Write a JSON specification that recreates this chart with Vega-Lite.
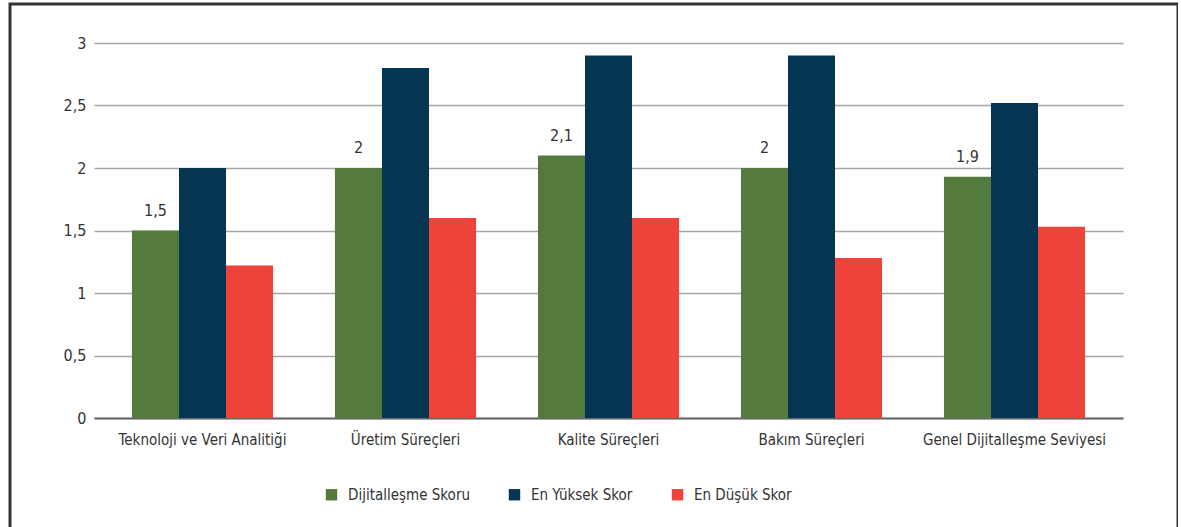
{
  "$schema": "https://vega.github.io/schema/vega-lite/v6.json",
  "autosize": {"type": "none"},
  "padding": {"left": 10, "top": 4, "right": 0, "bottom": 0},
  "width": 1168,
  "height": 530,
  "background": "#ffffff",
  "config": {
    "view": {"stroke": "#333333", "strokeWidth": 3},
    "font": "Liberation Sans Narrow, DejaVu Sans Condensed, sans-serif",
    "text": {"font": "Liberation Sans Narrow, DejaVu Sans Condensed, sans-serif"}
  },
  "data": {
    "values": [
      {"category": "Teknoloji ve Veri Analitiği", "series": "Dijitalleşme Skoru", "value": 1.5},
      {"category": "Teknoloji ve Veri Analitiği", "series": "En Yüksek Skor", "value": 2.0},
      {"category": "Teknoloji ve Veri Analitiği", "series": "En Düşük Skor", "value": 1.22},
      {"category": "Üretim Süreçleri", "series": "Dijitalleşme Skoru", "value": 2.0},
      {"category": "Üretim Süreçleri", "series": "En Yüksek Skor", "value": 2.8},
      {"category": "Üretim Süreçleri", "series": "En Düşük Skor", "value": 1.6},
      {"category": "Kalite Süreçleri", "series": "Dijitalleşme Skoru", "value": 2.1},
      {"category": "Kalite Süreçleri", "series": "En Yüksek Skor", "value": 2.9},
      {"category": "Kalite Süreçleri", "series": "En Düşük Skor", "value": 1.6},
      {"category": "Bakım Süreçleri", "series": "Dijitalleşme Skoru", "value": 2.0},
      {"category": "Bakım Süreçleri", "series": "En Yüksek Skor", "value": 2.9},
      {"category": "Bakım Süreçleri", "series": "En Düşük Skor", "value": 1.28},
      {"category": "Genel Dijitalleşme Seviyesi", "series": "Dijitalleşme Skoru", "value": 1.93},
      {"category": "Genel Dijitalleşme Seviyesi", "series": "En Yüksek Skor", "value": 2.52},
      {"category": "Genel Dijitalleşme Seviyesi", "series": "En Düşük Skor", "value": 1.53}
    ]
  },
  "encoding": {
    "x": {
      "field": "category",
      "type": "nominal",
      "sort": null,
      "scale": {"range": [84, 1113], "paddingInner": 0.305, "paddingOuter": 0.187},
      "axis": {
        "title": null,
        "orient": "bottom",
        "offset": -116,
        "labelAngle": 0,
        "labelLimit": 0,
        "ticks": false,
        "domainColor": "#666666",
        "domainWidth": 2,
        "labelFontSize": 15,
        "labelColor": "#333333",
        "labelPadding": 14,
        "labelFont": "Liberation Sans Narrow, DejaVu Sans Condensed, sans-serif",
        "grid": false
      }
    },
    "xOffset": {
      "field": "series",
      "type": "nominal",
      "sort": ["Dijitalleşme Skoru", "En Yüksek Skor", "En Düşük Skor"],
      "scale": {"paddingInner": 0, "paddingOuter": 0}
    },
    "y": {
      "field": "value",
      "type": "quantitative",
      "scale": {"domain": [0, 3], "range": [414, 39], "nice": false, "zero": true},
      "axis": {
        "title": null,
        "orient": "left",
        "offset": -84,
        "values": [0, 0.5, 1, 1.5, 2, 2.5, 3],
        "format": ".1~f",
        "labelExpr": "replace(datum.label, '.', ',')",
        "ticks": false,
        "domain": false,
        "grid": true,
        "gridColor": "#a6a6a6",
        "gridWidth": 1.5,
        "labelFontSize": 16,
        "labelColor": "#333333",
        "labelPadding": 8,
        "labelFont": "Liberation Sans Narrow, DejaVu Sans Condensed, sans-serif"
      }
    }
  },
  "layer": [
    {
      "mark": {"type": "bar"},
      "encoding": {
        "color": {
          "field": "series",
          "type": "nominal",
          "sort": ["Dijitalleşme Skoru", "En Yüksek Skor", "En Düşük Skor"],
          "scale": {
            "domain": ["Dijitalleşme Skoru", "En Yüksek Skor", "En Düşük Skor"],
            "range": ["#557A3D", "#063554", "#EE4339"]
          },
          "legend": {
            "title": null,
            "orient": "none",
            "direction": "horizontal",
            "legendX": 314,
            "legendY": 483,
            "symbolType": "square",
            "symbolSize": 130,
            "symbolStrokeWidth": 0,
            "labelFontSize": 15,
            "labelColor": "#333333",
            "labelOffset": 9,
            "columnPadding": 37,
            "labelLimit": 0,
            "labelFont": "Liberation Sans Narrow, DejaVu Sans Condensed, sans-serif"
          }
        }
      }
    },
    {
      "transform": [
        {"filter": "datum.series === 'Dijitalleşme Skoru'"},
        {"calculate": "replace(format(datum.value, '.1~f'), '.', ',')", "as": "label"}
      ],
      "mark": {"type": "text", "baseline": "bottom", "dy": -12, "fontSize": 16, "color": "#333333"},
      "encoding": {
        "text": {"field": "label", "type": "nominal"}
      }
    }
  ]
}
